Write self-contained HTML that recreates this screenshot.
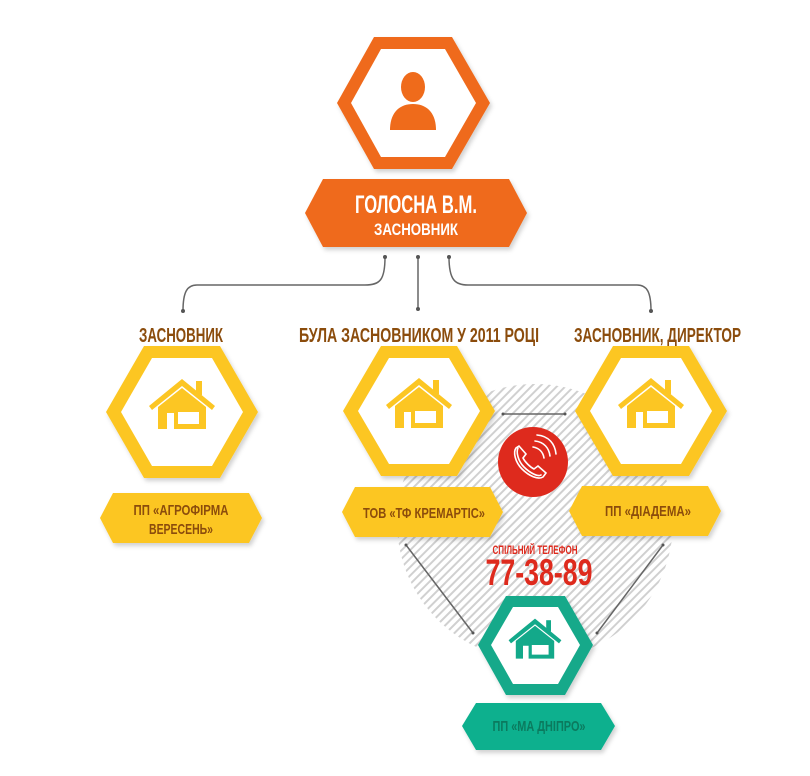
<!DOCTYPE html>
<html><head><meta charset="utf-8"><style>
html,body{margin:0;padding:0;background:#fff;}
svg{display:block;}
text{font-family:"Liberation Sans Narrow","Liberation Sans",sans-serif;font-weight:bold;}
</style></head><body>
<svg width="810" height="776" viewBox="0 0 810 776" xmlns="http://www.w3.org/2000/svg">
<defs>
<pattern id="hatch" width="6" height="6" patternUnits="userSpaceOnUse" patternTransform="rotate(-45)">
<rect width="6" height="6" fill="#fff"/>
<rect width="6" height="2" fill="#d0d0d0"/>
</pattern>
<g id="house">
<path d="M-33,-6 L0,-33 L33,-6 L30,-2 L0,-26 L-30,-2 Z"/>
<rect x="14" y="-31" width="6" height="14"/>
<path d="M-24,-5 L0,-24 L24,-5 L24,17 L-24,17 Z M-15,17 L-15,1 L-8,1 L-8,17 Z M-4,0 L17,0 L17,12 L-4,12 Z" fill-rule="evenodd"/>
</g>
<filter id="sh" x="-20%" y="-20%" width="140%" height="140%"><feDropShadow dx="2" dy="3" stdDeviation="2" flood-color="#000" flood-opacity="0.18"/></filter>
</defs>

<circle cx="535" cy="522" r="138" fill="url(#hatch)"/>

<polygon points="337,103 374,37 452,37 490,103 452,169 374,169" fill="#ef6b1b" filter="url(#sh)"/>
<polygon points="351,103 381,49 445,49 476,103 445,157 381,157" fill="#fff"/>
<g fill="#ef6b1b">
<ellipse cx="413" cy="87" rx="12" ry="15"/>
<path d="M390,130 C390,112 400,104 413,104 C426,104 436,112 436,130 Z"/>
</g>
<polygon points="305,213 323,179 509,179 527,213 509,247 323,247" fill="#ef6b1b" filter="url(#sh)"/>
<text x="416" y="213" fill="#fff" font-size="25" text-anchor="middle" textLength="122" lengthAdjust="spacingAndGlyphs">ГОЛОСНА В.М.</text>
<text x="416" y="235" fill="#fff" font-size="17" text-anchor="middle" textLength="84" lengthAdjust="spacingAndGlyphs">ЗАСНОВНИК</text>

<g stroke="#666" stroke-width="1.5" fill="none">
<path d="M385,257 C385,280 380,285 365,285 L197,285 C187,285 183,292 183,311"/>
<path d="M418,257 L418,309"/>
<path d="M449,257 C449,280 455,285 468,285 L637,285 C647,285 651,292 651,311"/>
<path d="M503,414 L565,414"/>
<path d="M406,545 L473,633"/>
<path d="M663,545 L597,633"/>
</g>
<g fill="#555">
<circle cx="385" cy="257" r="2"/><circle cx="418" cy="257" r="2"/><circle cx="449" cy="257" r="2"/>
<circle cx="183" cy="311" r="2"/><circle cx="418" cy="309" r="2"/><circle cx="651" cy="311" r="2"/>
<circle cx="503" cy="414" r="1.5"/><circle cx="565" cy="414" r="1.5"/>
<circle cx="406" cy="545" r="1.5"/><circle cx="473" cy="633" r="1.5"/>
<circle cx="663" cy="545" r="1.5"/><circle cx="597" cy="633" r="1.5"/>
</g>

<g fill="#8b4c0c" font-size="20">
<text x="139" y="342" textLength="84" lengthAdjust="spacingAndGlyphs">ЗАСНОВНИК</text>
<text x="299" y="342" textLength="240" lengthAdjust="spacingAndGlyphs">БУЛА ЗАСНОВНИКОМ У 2011 РОЦІ</text>
<text x="574" y="342" textLength="167" lengthAdjust="spacingAndGlyphs">ЗАСНОВНИК, ДИРЕКТОР</text>
</g>

<g>
<polygon points="106,412 144,346 220,346 258,412 220,478 144,478" fill="#fcc623" filter="url(#sh)"/>
<polygon points="121,412 152,358 212,358 243,412 212,466 152,466" fill="#fff"/>
<use href="#house" x="182" y="412" fill="#fcc623"/>

<polygon points="343,411 381,346 457,346 495,411 457,476 381,476" fill="#fcc623" filter="url(#sh)"/>
<polygon points="358,411 389,358 449,358 480,411 449,464 389,464" fill="#fff"/>
<use href="#house" x="419" y="411" fill="#fcc623"/>

<polygon points="575,411 613,346 689,346 727,411 689,476 613,476" fill="#fcc623" filter="url(#sh)"/>
<polygon points="590,411 621,358 681,358 712,411 681,464 621,464" fill="#fff"/>
<use href="#house" x="651" y="411" fill="#fcc623"/>
</g>

<polygon points="100,518 113,493 249,493 262,518 249,543 113,543" fill="#fcc623" filter="url(#sh)"/>
<text x="181" y="515" fill="#8b4c0c" font-size="15" text-anchor="middle" textLength="95" lengthAdjust="spacingAndGlyphs">ПП «АГРОФІРМА</text>
<text x="181" y="534" fill="#8b4c0c" font-size="15" text-anchor="middle" textLength="64" lengthAdjust="spacingAndGlyphs">ВЕРЕСЕНЬ»</text>

<polygon points="342,512 355,487 490,487 503,512 490,537 355,537" fill="#fcc623" filter="url(#sh)"/>
<text x="424" y="518" fill="#8b4c0c" font-size="15" text-anchor="middle" textLength="122" lengthAdjust="spacingAndGlyphs">ТОВ «ТФ КРЕМАРТІС»</text>

<polygon points="569,511 582,486 708,486 721,511 708,536 582,536" fill="#fcc623" filter="url(#sh)"/>
<text x="648" y="516" fill="#8b4c0c" font-size="15" text-anchor="middle" textLength="86" lengthAdjust="spacingAndGlyphs">ПП «ДІАДЕМА»</text>

<circle cx="533" cy="462" r="35" fill="#de2a1d"/>
<g fill="none" stroke="#fff" stroke-width="1.6" stroke-linecap="round">
<path d="M516,448 C513,452 515,462 522,469 C529,476 538,480 543,477 L546,473 L538,466 L534,469 C530,467 525,462 523,458 L526,454 L519,446 Z"/>
<path d="M518,448 C516,452 518,461 524,467 C530,473 538,477 541,475"/>
<path d="M533,447 C539,448 543,452 544,458"/>
<path d="M535,441 C544,442 549,448 550,456"/>
<path d="M537,435 C549,436 555,444 556,454"/>
</g>

<text x="535" y="554" fill="#de2a1d" font-size="12" text-anchor="middle" textLength="85" lengthAdjust="spacingAndGlyphs">СПІЛЬНИЙ ТЕЛЕФОН</text>
<text x="539" y="585" fill="#de2a1d" font-size="37" text-anchor="middle" textLength="107" lengthAdjust="spacingAndGlyphs">77-38-89</text>

<polygon points="478,645 506,596 565,596 593,645 565,695 506,695" fill="#13a98a" filter="url(#sh)"/>
<polygon points="491,645 513,607 558,607 580,645 558,684 513,684" fill="#fff"/>
<use href="#house" x="535" y="645" fill="#13a98a" transform="translate(535 645) scale(0.8) translate(-535 -645)"/>

<polygon points="462,726 476,703 601,703 615,726 601,750 476,750" fill="#10b08e" filter="url(#sh)"/>
<text x="539" y="731" fill="#0b7a5e" font-size="15" text-anchor="middle" textLength="93" lengthAdjust="spacingAndGlyphs">ПП «МА ДНІПРО»</text>
</svg>
</body></html>
